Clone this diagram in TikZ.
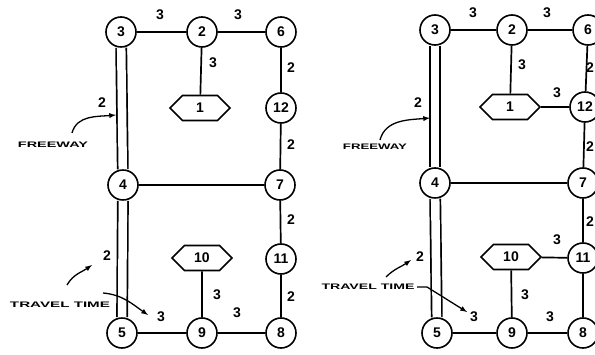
\documentclass[tikz,border=0pt]{standalone}
\usepackage{fontspec}
\setmainfont{Liberation Sans}
\usetikzlibrary{arrows,shapes.symbols}

\begin{document}
\begin{tikzpicture}[x=1pt,y=1pt]
	\tikzstyle{stn} = [circle, draw, line width=1.6pt, minimum size=30pt, inner sep=0pt, font=\fontsize{14}{16}\selectfont\bfseries]
	\tikzstyle{zone} = [signal, signal to=west and east, draw, line width=1.6pt, minimum width=60pt, minimum height=25pt, inner sep=0pt, font=\fontsize{14}{16}\selectfont\bfseries]
	\tikzstyle{road} = [line width=1.7pt]
	\tikzstyle{freeway} = [double, double distance=8.5pt, line width=1.7pt]
	\tikzstyle{tt} = [inner sep=0pt, font=\fontsize{14}{16}\selectfont\bfseries]
	\tikzstyle{tag} = [inner sep=0pt, font=\bfseries]
	\tikzstyle{pointer} = [-latex, line width=1.3pt]
	\useasboundingbox (0,0) rectangle (595,354);
	% left network
	\node[stn] (L3) at (121,322) {3};
	\node[stn] (L2) at (202,322) {2};
	\node[stn] (L6) at (281,322) {6};
	\node[zone] (L1) at (200,246) {1};
	\node[stn] (L12) at (281,246) {12};
	\node[stn] (L4) at (123,169) {4};
	\node[stn] (L7) at (280,169) {7};
	\node[zone] (L10) at (202,96) {10};
	\node[stn] (L11) at (281,95) {11};
	\node[stn] (L5) at (122,21) {5};
	\node[stn] (L9) at (202,21) {9};
	\node[stn] (L8) at (281,21) {8};
	\draw[road] (L3) -- (L2);
	\draw[road] (L2) -- (L6);
	\draw[road] (L2) -- (L1);
	\draw[road] (L6) -- (L12);
	\draw[road] (L12) -- (L7);
	\draw[road] (L4) -- (L7);
	\draw[road] (L7) -- (L11);
	\draw[road] (L11) -- (L8);
	\draw[road] (L10) -- (L9);
	\draw[road] (L5) -- (L9);
	\draw[road] (L9) -- (L8);
	\draw[freeway] (L3) -- (L4);
	\draw[freeway] (L4) -- (L5);
	\node[tt] (tL32) at (160,339) {3};
	\node[tt] (tL26) at (238,339) {3};
	\node[tt] (tL21) at (213,291) {3};
	\node[tt] (tL612) at (291,286) {2};
	\node[tt] (tL127) at (291,209) {2};
	\node[tt] (tL711) at (291,134) {2};
	\node[tt] (tL118) at (291,57) {2};
	\node[tt] (tL109) at (217,59) {3};
	\node[tt] (tL98) at (237,41) {3};
	\node[tt] (tL34) at (102,251) {2};
	\node[tt] (tL45) at (107,98) {2};
	\node[tt] (tL59) at (161,37) {3};
	\node[tag] (fwL) at (53,209) {\resizebox{70pt}{5.5pt}{FREEWAY}};
	\node[tag] (ttL) at (60,49) {\resizebox{100pt}{5.5pt}{TRAVEL TIME}};
	\coordinate (fwLa) at (72,221);
	\coordinate (fwLb) at (116,239);
	\coordinate (ttLa) at (67,69);
	\coordinate (ttLb) at (92,89);
	\coordinate (ttLc) at (103,61);
	\coordinate (ttLd) at (148,39);
	\draw[pointer] (fwLa) to[out=75,in=185] (fwLb);
	\draw[pointer] (ttLa) to[out=60,in=215] (ttLb);
	\draw[pointer] (ttLc) to[out=-5,in=145] (ttLd);
	% right network
	\node[stn] (R3) at (435,324) {3};
	\node[stn] (R2) at (512,324) {2};
	\node[stn] (R6) at (588,324) {6};
	\node[zone] (R1) at (510,247) {1};
	\node[stn] (R12) at (585,247) {12};
	\node[stn] (R4) at (435,171) {4};
	\node[stn] (R7) at (583,171) {7};
	\node[zone] (R10) at (511,97) {10};
	\node[stn] (R11) at (583,96) {11};
	\node[stn] (R5) at (437,21) {5};
	\node[stn] (R9) at (512,21) {9};
	\node[stn] (R8) at (583,21) {8};
	\draw[road] (R3) -- (R2);
	\draw[road] (R2) -- (R6);
	\draw[road] (R2) -- (R1);
	\draw[road] (R1) -- (R12);
	\draw[road] (R6) -- (R12);
	\draw[road] (R12) -- (R7);
	\draw[road] (R4) -- (R7);
	\draw[road] (R7) -- (R11);
	\draw[road] (R10) -- (R11);
	\draw[road] (R11) -- (R8);
	\draw[road] (R10) -- (R9);
	\draw[road] (R5) -- (R9);
	\draw[road] (R9) -- (R8);
	\draw[freeway] (R3) -- (R4);
	\draw[freeway] (R4) -- (R5);
	\node[tt] (tR32) at (473,341) {3};
	\node[tt] (tR26) at (547,341) {3};
	\node[tt] (tR21) at (522,289) {3};
	\node[tt] (tR112) at (557,261) {3};
	\node[tt] (tR612) at (590,286) {2};
	\node[tt] (tR127) at (590,207) {2};
	\node[tt] (tR711) at (590,132) {2};
	\node[tt] (tR1011) at (557,114) {3};
	\node[tt] (tR109) at (525,59) {3};
	\node[tt] (tR98) at (550,37) {3};
	\node[tt] (tR34) at (418,251) {2};
	\node[tt] (tR45) at (420,97) {2};
	\node[tt] (tR59) at (474,37) {3};
	\node[tag] (fwR) at (375,207) {\resizebox{64pt}{5.5pt}{FREEWAY}};
	\node[tag] (ttR) at (368,67) {\resizebox{93pt}{5.5pt}{TRAVEL TIME}};
	\coordinate (fwRa) at (380,214);
	\coordinate (fwRb) at (430,236);
	\coordinate (ttRa) at (386,77);
	\coordinate (ttRb) at (411,94);
	\coordinate (ttRc) at (417,67);
	\coordinate (ttRk) at (427,67);
	\coordinate (ttRd) at (467,42);
	\draw[pointer] (fwRa) to[out=75,in=185] (fwRb);
	\draw[pointer] (ttRa) to[out=45,in=215] (ttRb);
	\draw[pointer] (ttRc) -- (ttRk) -- (ttRd);
\end{tikzpicture}
\end{document}
